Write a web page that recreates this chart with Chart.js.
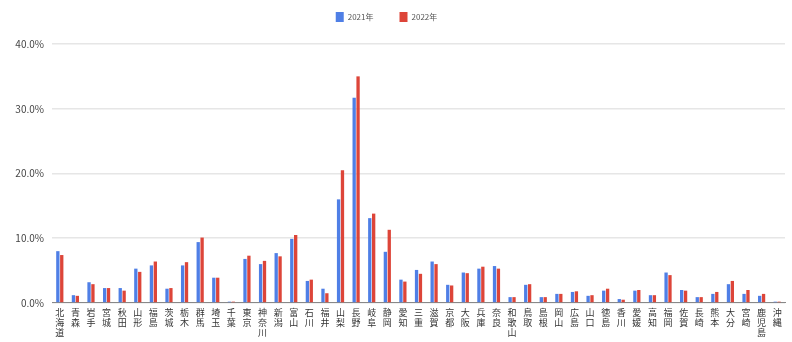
<!DOCTYPE html>
<html>
<head>
<meta charset="utf-8">
<script src="https://cdn.jsdelivr.net/npm/chart.js@4.4.1/dist/chart.umd.min.js"></script>
<style>
  html, body { margin: 0; padding: 0; background: #ffffff; }
  #wrap { width: 792px; height: 342px; }
</style>
</head>
<body>
<div id="wrap"><canvas id="chart" width="792" height="342"></canvas></div>
<script>
// Prefectures, north to south
const prefectures = [
  "北海道", "青森", "岩手", "宮城", "秋田", "山形", "福島", "茨城", "栃木", "群馬",
  "埼玉", "千葉", "東京", "神奈川", "新潟", "富山", "石川", "福井", "山梨", "長野",
  "岐阜", "静岡", "愛知", "三重", "滋賀", "京都", "大阪", "兵庫", "奈良", "和歌山",
  "鳥取", "島根", "岡山", "広島", "山口", "徳島", "香川", "愛媛", "高知", "福岡",
  "佐賀", "長崎", "熊本", "大分", "宮崎", "鹿児島", "沖縄"
];

// Share by prefecture (%)
const share2021 = [
  8.0, 1.2, 3.2, 2.3, 2.3, 5.3, 5.8, 2.2, 5.8, 9.4,
  3.9, 0.2, 6.8, 6.0, 7.7, 9.9, 3.4, 2.2, 16.0, 31.7,
  13.1, 7.9, 3.6, 5.1, 6.4, 2.8, 4.7, 5.3, 5.7, 0.9,
  2.8, 0.9, 1.4, 1.7, 1.1, 1.9, 0.6, 1.9, 1.2, 4.7,
  2.0, 0.9, 1.4, 2.9, 1.4, 1.1, 0.2
];
const share2022 = [
  7.4, 1.1, 2.9, 2.3, 1.9, 4.8, 6.4, 2.3, 6.3, 10.1,
  3.9, 0.2, 7.3, 6.5, 7.2, 10.5, 3.6, 1.5, 20.5, 35.0,
  13.8, 11.3, 3.3, 4.5, 6.0, 2.7, 4.6, 5.6, 5.3, 0.9,
  2.9, 0.9, 1.4, 1.8, 1.2, 2.2, 0.5, 2.0, 1.2, 4.3,
  1.9, 0.9, 1.7, 3.4, 2.0, 1.4, 0.2
];

const seriesNames = ["2021年", "2022年"];
const yTicks = [0, 10, 20, 30, 40];

// Vertical category labels: one character per line
const stackedLabels = prefectures.map(name => Array.from(name));

const font = '"Noto Sans CJK JP", Roboto, "Noto Sans", sans-serif';

// Legend sits high with a wide gap between entries; its box keeps a fixed height
const LEGEND_PAD = 26;
const legendPlacement = {
  id: "legendPlacement",
  beforeInit(chart) {
    const fit = chart.legend.fit;
    chart.legend.fit = function () {
      fit.call(this);
      this.height = 44;
    };
  },
  afterLayout(chart) {
    const lg = chart.legend;
    lg.top -= LEGEND_PAD - 12;
    lg.left -= 8;
    lg.right -= 8;
  }
};

new Chart(document.getElementById("chart"), {
  type: "bar",
  data: {
    labels: stackedLabels,
    datasets: [
      { label: seriesNames[0], data: share2021, backgroundColor: "#4f7fe6", borderWidth: 0 },
      { label: seriesNames[1], data: share2022, backgroundColor: "#dd4539", borderWidth: 0 }
    ]
  },
  plugins: [legendPlacement],
  options: {
    responsive: false,
    animation: false,
    layout: { padding: { left: 4, right: 7, top: 0, bottom: 0 } },
    datasets: { bar: { categoryPercentage: 0.5, barPercentage: 0.85 } },
    plugins: {
      legend: {
        position: "top",
        labels: {
          boxWidth: 8, boxHeight: 10, padding: LEGEND_PAD,
          color: "#555", font: { family: font, size: 8 }
        }
      },
      tooltip: { enabled: false }
    },
    scales: {
      x: {
        grid: { display: false, drawTicks: false },
        border: { color: "#888", width: 1 },
        ticks: {
          autoSkip: false, maxRotation: 0, minRotation: 0, padding: 4,
          color: "#333", font: { family: font, size: 9, lineHeight: 1.15 }
        }
      },
      y: {
        min: 0, max: 40,
        afterFit: s => { s.width = 48; },
        afterBuildTicks: s => { s.ticks = yTicks.map(v => ({ value: v })); },
        grid: { color: "#e6e6e6", lineWidth: 1.5, drawTicks: false },
        border: { display: false },
        ticks: {
          padding: 8, color: "#444", font: { family: font, size: 10 },
          callback: v => v.toFixed(1) + "%"
        }
      }
    }
  }
});
</script>
</body>
</html>
